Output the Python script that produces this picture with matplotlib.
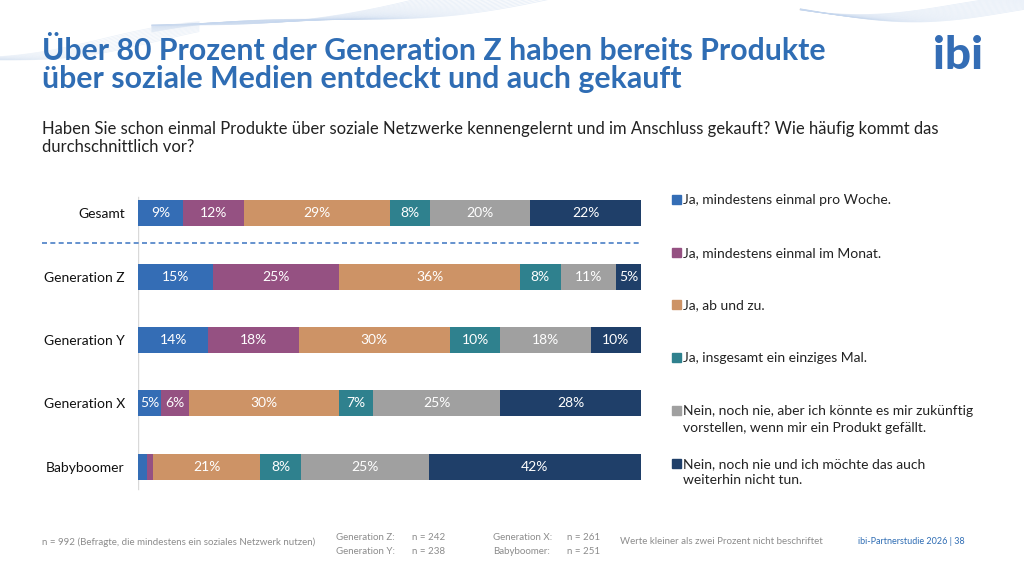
import matplotlib
matplotlib.use("Agg")
import matplotlib.pyplot as plt
import numpy as np
from matplotlib.patches import Rectangle

plt.rcParams['font.family'] = ['Lato', 'DejaVu Sans']

# ---------------- data ----------------
categories = ["Gesamt", "Generation Z", "Generation Y", "Generation X", "Babyboomer"]
series_names = [
    "Ja, mindestens einmal pro Woche.",
    "Ja, mindestens einmal im Monat.",
    "Ja, ab und zu.",
    "Ja, insgesamt ein einziges Mal.",
    "Nein, noch nie, aber ich könnte es mir zukünftig\nvorstellen, wenn mir ein Produkt gefällt.",
    "Nein, noch nie und ich möchte das auch\nweiterhin nicht tun.",
]
woche   = [9, 15, 14, 4.6, 1.8]
monat   = [12, 25, 18, 5.6, 1.2]
abundzu = [29, 36, 30, 29.7, 21.3]
einmal  = [8, 8, 10, 6.9, 8.2]
vorstellbar = [20, 11, 18, 25.2, 25.3]
nie     = [22, 5, 10, 28.0, 42.2]
series = [woche, monat, abundzu, einmal, vorstellbar, nie]
colors = ["#346DB5", "#955182", "#CD9366", "#2F818E", "#A0A0A0", "#1F3F69"]

title = "Über 80 Prozent der Generation Z haben bereits Produkte\nüber soziale Medien entdeckt und auch gekauft"
subtitle = ("Haben Sie schon einmal Produkte über soziale Netzwerke kennengelernt und im Anschluss gekauft? Wie häufig kommt das\n"
            "durchschnittlich vor?")
footer_n = "n = 992 (Befragte, die mindestens ein soziales Netzwerk nutzen)"
group_n_labels = ["Generation Z:", "Generation Y:", "Generation X:", "Babyboomer:"]
group_n_values = ["n = 242", "n = 238", "n = 261", "n = 251"]
footer_note = "Werte kleiner als zwei Prozent nicht beschriftet"
footer_right = "ibi-Partnerstudie 2026 | 38"

# ---------------- figure ----------------
W, H = 1024, 576
fig = plt.figure(figsize=(W / 100, H / 100), dpi=100)
fig.patch.set_facecolor("white")

def fx(px):
    return px / W

def fy(py):
    return 1 - py / H

# decorative waves at top
bg = fig.add_axes([0, 0, 1, 1], zorder=-5)
bg.set_xlim(0, W); bg.set_ylim(H, 0); bg.axis("off")
t = np.linspace(0, W, 500)
for k in range(22):
    ph = k * 0.05
    yy = 45 - 40 * np.tanh((t - 250) / 180) + 18 * np.sin((t - 300) / 90 + ph) - k * 0.7
    m = (t > 150) & (t < 760)
    bg.plot(t[m], yy[m] - 15, color="#C6D7EE", lw=0.5, alpha=0.45)
for k in range(16):
    ph = k * 0.06
    yy = 12 + 10 * np.sin((t - 820) / 60 + ph) - k * 0.5
    m = t > 800
    bg.plot(t[m], yy[m], color="#C6D7EE", lw=0.5, alpha=0.45)
for k in range(12):
    yy = 60 - 0.12 * t + 6 * np.sin(t / 50 + k * 0.1) - k * 0.8
    m = t < 200
    bg.plot(t[m], yy[m], color="#D3E0F1", lw=0.5, alpha=0.45)

blue = "#2F6DB4"
fig.text(fx(42), fy(37), title, ha="left", va="top", fontsize=21.8, fontweight="bold",
         color=blue, linespacing=0.98)
fig.text(fx(42), fy(121), subtitle, ha="left", va="top", fontsize=12, color="#222222",
         linespacing=1.15)

# logo
fig.text(fx(958), fy(56), "ibi", ha="center", va="center", fontsize=33, fontweight="black",
         color="#346DB5")

# ---------------- bars ----------------
left_px, right_px = 138, 641
top_px, bot_px = 181.5, 498.5
ax = fig.add_axes([fx(left_px), fy(bot_px), fx(right_px - left_px), (bot_px - top_px) / H])
y = np.arange(len(categories))
lefts = np.zeros(len(categories))
for vals, col in zip(series, colors):
    vals = np.array(vals, dtype=float)
    ax.barh(y, vals, left=lefts, height=0.41, color=col, edgecolor="none")
    for yi, (l, v) in enumerate(zip(lefts, vals)):
        if v >= 2:
            ax.text(l + v / 2, yi, f"{round(v):d}%", ha="center", va="center",
                    color="white", fontsize=10)
    lefts += vals
ax.set_xlim(0, 100)
ax.set_ylim(len(categories) - 0.5, -0.5)
for s in ax.spines.values():
    s.set_visible(False)
ax.set_xticks([])
ax.set_yticks(y)
ax.set_yticklabels(categories, fontsize=10, color="#111111")
ax.tick_params(axis="y", length=0, pad=9.5)
ax.axvline(0, ymin=0.03, ymax=0.95, color="#D9D9D9", lw=1, zorder=0)
ax.axhline(0.47, xmin=(42 - left_px) / (right_px - left_px), xmax=1, color="#4A7FC6",
           lw=1.2, ls=(0, (3, 2)), clip_on=False)

# ---------------- legend ----------------
leg_y = [199, 252, 304, 357, 410, 463]
for name, col, ly in zip(series_names, colors, leg_y):
    fig.patches.append(Rectangle((fx(672), fy(ly + 4.5)), fx(8.5), 8.5 / H, color=col,
                                 transform=fig.transFigure, figure=fig))
    fig.text(fx(683), fy(ly - 5), name, ha="left", va="top", fontsize=10, color="#222222",
             linespacing=1.45)

# ---------------- footer ----------------
gray = "#8C8C8C"
fig.text(fx(42), fy(542), footer_n, ha="left", va="center", fontsize=7, color=gray)
pos = [(336, 412, 537), (336, 412, 551), (493, 567, 537), (493, 567, 551)]
for lab, val, (x1, x2, yy) in zip(group_n_labels, group_n_values, pos):
    fig.text(fx(x1), fy(yy), lab, ha="left", va="center", fontsize=7, color=gray)
    fig.text(fx(x2), fy(yy), val, ha="left", va="center", fontsize=7, color=gray)
fig.text(fx(620), fy(542), footer_note, ha="left", va="center", fontsize=7, color=gray)
fig.text(fx(858), fy(542), footer_right, ha="left", va="center", fontsize=6.5, color=blue)

fig.savefig("out.png", dpi=100)
